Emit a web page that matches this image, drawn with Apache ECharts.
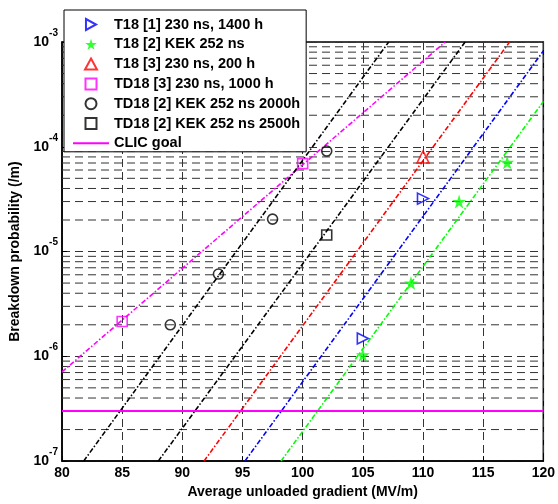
<!DOCTYPE html>
<html>
<head>
<meta charset="utf-8">
<script src="https://cdn.jsdelivr.net/npm/echarts@6/dist/echarts.min.js"></script>
<style>
  html, body { margin: 0; padding: 0; background: #fff; }
  #chart { width: 558px; height: 504px; }
</style>
</head>
<body>
<div id="chart"></div>
<script>
// measured points
var t18aX = [105, 110];
var t18aY = [1.48e-6, 3.2e-5];
var t18bX = [105, 109, 113, 117];
var t18bY = [1.03e-6, 5.0e-6, 3.0e-5, 7.1e-5];
var t18cX = [110];
var t18cY = [8.0e-5];
var td18aX = [85, 100];
var td18aY = [2.15e-6, 6.9e-5];
var td18bX = [89, 93, 97.5, 102];
var td18bY = [2.0e-6, 6.1e-6, 2.04e-5, 9.1e-5];
var td18cX = [102];
var td18cY = [1.44e-5];

// fitted lines, two end points each
var fitMagX = [80, 111.85];
var fitMagY = [7.1e-7, 1e-3];
var fitBlk1X = [81.8, 107.15];
var fitBlk1Y = [1e-7, 1e-3];
var fitBlk2X = [88.0, 113.5];
var fitBlk2Y = [1e-7, 1e-3];
var fitRedX = [91.8, 117.2];
var fitRedY = [1e-7, 1e-3];
var fitBlueX = [95.2, 120];
var fitBlueY = [1e-7, 8.2e-4];
var fitGreenX = [98.2, 120];
var fitGreenY = [1e-7, 2.7e-4];

var clicX = [80, 120];
var clicY = [3e-7, 3e-7];

// minor grid lines 2..9 x 10^k
var decades = [1e-7, 1e-6, 1e-5, 1e-4];
var minorMult = [2, 3, 4, 5, 6, 7, 8, 9];
var xRange = [80, 120];

var names = [
    'T18 [1] 230 ns, 1400 h',
    'T18 [2] KEK 252 ns',
    'T18 [3] 230 ns, 200 h',
    'TD18 [3] 230 ns, 1000 h',
    'TD18 [2] KEK 252 ns 2000h',
    'TD18 [2] KEK 252 ns 2500h',
    'CLIC goal'
];

var starPath = 'path://M50,0L61,35L98,35L68,57L79,91L50,70L21,91L32,57L2,35L39,35Z';
var rightTri = 'path://M0,0L11,6L0,12Z';
var upTri = 'path://M6,0L12,11L0,11Z';
var square = 'path://M0,0L10,0L10,10L0,10Z';

function pairs(xs, ys) {
    return xs.map(function (x, i) { return [x, ys[i]]; });
}

var dashDot = [5, 2, 1.5, 2];
var gridDash = { color: '#333', width: 1, type: [8, 5] };
var font = 'Liberation Sans, Arial';

function fitLine(name, xs, ys, color) {
    return {
        name: name, type: 'line', data: pairs(xs, ys),
        symbol: 'none', silent: true, z: 3,
        lineStyle: { color: color, width: 1.6, type: dashDot }
    };
}

function marks(name, xs, ys, symbol, size, color, filled) {
    return {
        name: name, type: 'scatter', data: pairs(xs, ys),
        symbol: symbol, symbolSize: size, z: 5,
        itemStyle: filled ? { color: color } :
            { color: 'rgba(0,0,0,0)', borderColor: color, borderWidth: 1.6 }
    };
}

var series = [];
decades.forEach(function (d) {
    minorMult.forEach(function (m) {
        var v = +(m * d).toPrecision(3);
        series.push({
            name: 'minor', type: 'line', silent: true, symbol: 'none', z: 1,
            data: pairs(xRange, [v, v]),
            lineStyle: gridDash
        });
    });
});
series.push(
    {
        name: 'CLIC goal', type: 'line', data: pairs(clicX, clicY),
        symbol: 'none', z: 4,
        itemStyle: { color: 'rgba(0,0,0,0)' },
        lineStyle: { color: '#ff00ff', width: 2 }
    },
    fitLine('fitMag', fitMagX, fitMagY, '#ff00ff'),
    fitLine('fitBlk1', fitBlk1X, fitBlk1Y, '#000'),
    fitLine('fitBlk2', fitBlk2X, fitBlk2Y, '#000'),
    fitLine('fitRed', fitRedX, fitRedY, '#ff0000'),
    fitLine('fitBlue', fitBlueX, fitBlueY, '#0000ff'),
    fitLine('fitGreen', fitGreenX, fitGreenY, '#00ff00'),
    marks(names[0], t18aX, t18aY, rightTri, 11, '#0000ff', false),
    marks(names[1], t18bX, t18bY, starPath, 14, '#00ff00', true),
    marks(names[2], t18cX, t18cY, upTri, 12, '#ff0000', false),
    marks(names[3], td18aX, td18aY, square, 10, '#ff00ff', false),
    marks(names[4], td18bX, td18bY, 'circle', 10, '#000', false),
    marks(names[5], td18cX, td18cY, square, 10, '#000', false)
);

var chart = echarts.init(document.getElementById('chart'));

chart.setOption({
    animation: false,
    backgroundColor: '#fff',
    grid: { left: 62, right: 13, top: 42, bottom: 36, show: true, borderColor: '#000', borderWidth: 1.5 },
    legend: {
        data: names,
        orient: 'vertical',
        left: 64, top: 10,
        padding: [7, 6, 1, 8],
        itemWidth: 36, itemHeight: 11, itemGap: 4.8,
        backgroundColor: '#fff',
        borderColor: '#000', borderWidth: 1,
        textStyle: { fontFamily: font, fontWeight: 'bold', fontSize: 14.5, color: '#000' }
    },
    xAxis: {
        type: 'value', min: 80, max: 120, interval: 5,
        name: 'Average unloaded gradient (MV/m)',
        nameLocation: 'middle', nameGap: 22,
        nameTextStyle: { fontFamily: font, fontWeight: 'bold', fontSize: 14, color: '#000' },
        axisLine: { lineStyle: { color: '#000', width: 1.5 } },
        axisTick: { inside: true, length: 5, lineStyle: { color: '#000' } },
        axisLabel: { margin: 5, fontFamily: font, fontWeight: 'bold', fontSize: 14, color: '#000' },
        splitLine: { show: true, lineStyle: gridDash }
    },
    yAxis: {
        type: 'log', logBase: 10, min: 1e-7, max: 1e-3, interval: 1,
        name: 'Breakdown probability (/m)',
        nameLocation: 'middle', nameGap: 35,
        nameTextStyle: { fontFamily: font, fontWeight: 'bold', fontSize: 14, color: '#000' },
        axisLine: { lineStyle: { color: '#000', width: 1.5 } },
        axisTick: { inside: true, length: 5, lineStyle: { color: '#000' } },
        axisLabel: {
            margin: 4,
            formatter: function (v) {
                var e = Math.round(Math.log(v) / Math.LN10);
                return '{b|10}{s|' + e + '}';
            },
            rich: {
                b: { fontFamily: font, fontWeight: 'bold', fontSize: 14, lineHeight: 28, color: '#000' },
                s: { fontFamily: font, fontWeight: 'bold', fontSize: 10, lineHeight: 10, verticalAlign: 'top', color: '#000' }
            }
        },
        splitLine: { show: true, lineStyle: gridDash }
    },
    series: series
});
</script>
</body>
</html>
